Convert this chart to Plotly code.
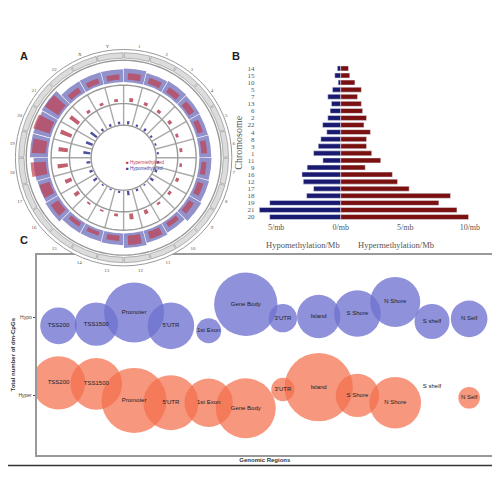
import plotly.graph_objects as go

# Panel B: methylation density per chromosome (top to bottom)
chromosomes = ["14", "15", "10", "5", "7", "13", "6", "2", "22", "4", "8",
               "3", "1", "11", "9", "16", "12", "17", "18", "19", "21", "20"]
hypo_density = [0.26, 0.46, 0.2, 0.64, 1.0, 0.72, 0.82, 1.0, 1.4, 1.08, 1.54,
                1.74, 2.1, 1.38, 2.6, 3.0, 2.9, 2.1, 2.64, 5.5, 6.3, 5.5]
hyper_density = [0.6, 0.7, 1.1, 1.6, 1.3, 1.6, 1.7, 2.0, 1.8, 2.3, 2.0,
                 2.0, 2.4, 3.1, 1.9, 4.0, 4.4, 5.3, 8.5, 7.6, 9.0, 9.9]

# Panel C: bubbles per genomic region (position, vertical offset, diameter)
regions = ["TSS200", "TSS1500", "Promoter", "5'UTR", "1st Exon", "Gene Body",
           "3'UTR", "Island", "S Shore", "N Shore", "S shelf", "N Self"]
region_x = [155, 270, 385, 497, 612, 725, 838, 947, 1065, 1180, 1292, 1405]
hypo_y = [265, 260, 225, 265, 280, 200, 242, 237, 228, 193, 252, 244]
hypo_size = [110, 130, 180, 140, 75, 190, 85, 130, 140, 150, 105, 110]
hyper_y = [437, 440, 490, 497, 497, 514, 457, 450, 475, 497, 447, 482]
hyper_size = [160, 155, 195, 165, 145, 180, 70, 205, 130, 155, 0, 65]

# Panel A: circos sectors
circos_chroms = [str(i) for i in range(1, 23)] + ["X", "Y"]

RED = "#7a1010"
BLUE = "#1a1a70"

fig = go.Figure()

# ---- Panel A ----
sector = 360 / len(circos_chroms)
centers = [i * sector + sector / 2 for i in range(len(circos_chroms))]
dens_by_chrom = {c: (hy, hp) for c, hy, hp in zip(chromosomes, hyper_density, hypo_density)}
hyper_r = [dens_by_chrom.get(c, (1.5, 1.5))[0] for c in circos_chroms]
hypo_r = [dens_by_chrom.get(c, (1.5, 1.5))[1] for c in circos_chroms]

fig.add_trace(go.Barpolar(r=[5] * len(centers), theta=centers, base=92, width=sector * 0.96,
                          marker=dict(color="#dcdcdc", line=dict(color="#888", width=0.6)),
                          showlegend=False, subplot="polar"))
fig.add_trace(go.Barpolar(r=[10 + v * 1.2 for v in hypo_r], theta=centers, base=70,
                          width=sector * 0.97, marker=dict(color="#4848a8", opacity=0.6, line=dict(width=0)),
                          showlegend=False, subplot="polar"))
fig.add_trace(go.Barpolar(r=[3 + v * 1.3 for v in hyper_r], theta=centers, base=72,
                          width=sector * 0.6, marker=dict(color="#c04050", opacity=0.7, line=dict(width=0)),
                          showlegend=False, subplot="polar"))
fig.add_trace(go.Barpolar(r=[1 + v for v in hyper_r], theta=centers, base=52,
                          width=sector * 0.25, marker=dict(color="#c06070", line=dict(width=0)),
                          showlegend=False, subplot="polar"))
fig.add_trace(go.Barpolar(r=[1 + v for v in hypo_r], theta=centers, base=31,
                          width=sector * 0.25, marker=dict(color="#5050a0", line=dict(width=0)),
                          showlegend=False, subplot="polar"))
for i in range(len(circos_chroms)):
    fig.add_trace(go.Scatterpolar(r=[30, 67], theta=[i * sector] * 2, mode="lines",
                                  line=dict(color="#aaa", width=1.4),
                                  showlegend=False, subplot="polar"))
for rr in [30, 50, 67, 90]:
    fig.add_trace(go.Scatterpolar(r=[rr] * 121, theta=[i * 3 for i in range(121)], mode="lines",
                                  line=dict(color="#999", width=1.4),
                                  showlegend=False, subplot="polar"))

# ---- Panel B ----
fig.add_trace(go.Bar(y=chromosomes, x=[-v for v in hypo_density], orientation="h",
                     marker_color=BLUE, width=0.7, showlegend=False, xaxis="x", yaxis="y"))
fig.add_trace(go.Bar(y=chromosomes, x=hyper_density, orientation="h",
                     marker_color=RED, width=0.7, showlegend=False, xaxis="x", yaxis="y"))

# ---- Panel C ----
lab_font = dict(family="Liberation Sans", size=6, color="#222")
fig.add_trace(go.Scatter(x=region_x, y=hypo_y, mode="markers+text", text=regions,
                         textfont=lab_font,
                         marker=dict(size=[s / 3 for s in hypo_size], color="#6f72cf",
                                     opacity=0.78, line=dict(width=0)),
                         showlegend=False, xaxis="x2", yaxis="y2"))
fig.add_trace(go.Scatter(x=region_x, y=hyper_y, mode="markers+text", text=regions,
                         textfont=lab_font,
                         marker=dict(size=[s / 3 for s in hyper_size], color="#f26f4c",
                                     opacity=0.72, line=dict(width=0)),
                         showlegend=False, xaxis="x2", yaxis="y2"))

fig.update_layout(
    width=500, height=500, margin=dict(l=0, r=0, t=0, b=0),
    paper_bgcolor="white", plot_bgcolor="white", barmode="relative", bargap=0.3,
    font=dict(family="Liberation Serif", size=8, color="#444"),
    polar=dict(domain=dict(x=[0.015, 0.455], y=[0.475, 0.925]), bgcolor="white",
               radialaxis=dict(range=[0, 100], visible=False),
               angularaxis=dict(direction="clockwise", rotation=90, tickvals=centers,
                                ticktext=circos_chroms, tickfont=dict(size=5, color="#555"),
                                showgrid=False, linecolor="#999", ticks="")),
    xaxis=dict(domain=[0.503, 0.944], range=[-6.6, 10.2], tickvals=[-5, 0, 5, 10],
               ticktext=["5/mb", "0/mb", "5/mb", "10/mb"], showgrid=False, zeroline=False,
               tickfont=dict(size=8, color="#555"), anchor="y"),
    yaxis=dict(domain=[0.574, 0.886], autorange="reversed", tickfont=dict(size=7, color="#555"),
               tickmode="array", tickvals=chromosomes, ticktext=chromosomes,
               title=dict(text="Chromosome", font=dict(size=10, color="#555"), standoff=2),
               showgrid=False, anchor="x"),
    xaxis2=dict(domain=[0.058, 0.986], range=[88, 1478], showticklabels=False, showgrid=False,
                zeroline=False, mirror=True, showline=True, linecolor="#999", linewidth=1.5,
                title=dict(text="<b>Genomic Regions</b>", font=dict(family="Liberation Sans", size=6, color="#333"),
                           standoff=2), anchor="y2"),
    yaxis2=dict(domain=[0.104, 0.506], range=[655, 50], tickvals=[240, 475],
                ticktext=["Hypo", "Hyper"], tickfont=dict(family="Liberation Sans", size=5),
                showgrid=False, zeroline=False, mirror=True, showline=True,
                linecolor="#999", linewidth=1.5, ticks="outside", ticklen=2,
                title=dict(text="<b>Total number of dm-CpGs</b>",
                           font=dict(family="Liberation Sans", size=6, color="#333"), standoff=2),
                anchor="x2"),
    annotations=[
        dict(text="<b>A</b>", x=0.02, y=0.92, xref="paper", yref="paper", showarrow=False,
             font=dict(family="Liberation Sans", size=11, color="#222")),
        dict(text="<b>B</b>", x=0.464, y=0.92, xref="paper", yref="paper", showarrow=False,
             font=dict(family="Liberation Sans", size=11, color="#222")),
        dict(text="<b>C</b>", x=0.02, y=0.536, xref="paper", yref="paper", showarrow=False,
             font=dict(family="Liberation Sans", size=11, color="#222")),
        dict(text="Hypomethylation/Mb", x=0.6, y=0.526, xref="paper", yref="paper",
             showarrow=False, font=dict(size=8.5, color="#555")),
        dict(text="Hypermethylation/Mb", x=0.87, y=0.526, xref="paper", yref="paper",
             showarrow=False, font=dict(size=8.5, color="#555")),
        dict(text="<span style='color:#c04050'>■ Hypermethylated</span><br>"
                  "<span style='color:#3a3aa0'>■ Hypomethylated</span>",
             x=0.235, y=0.70, xref="paper", yref="paper", showarrow=False,
             font=dict(family="Liberation Sans", size=4.5), align="left"),
    ],
    shapes=[dict(type="line", xref="paper", yref="paper", x0=0, x1=1, y0=0.083, y1=0.083,
                 line=dict(color="#333", width=1.5))],
)

fig.write_html("out.html")
